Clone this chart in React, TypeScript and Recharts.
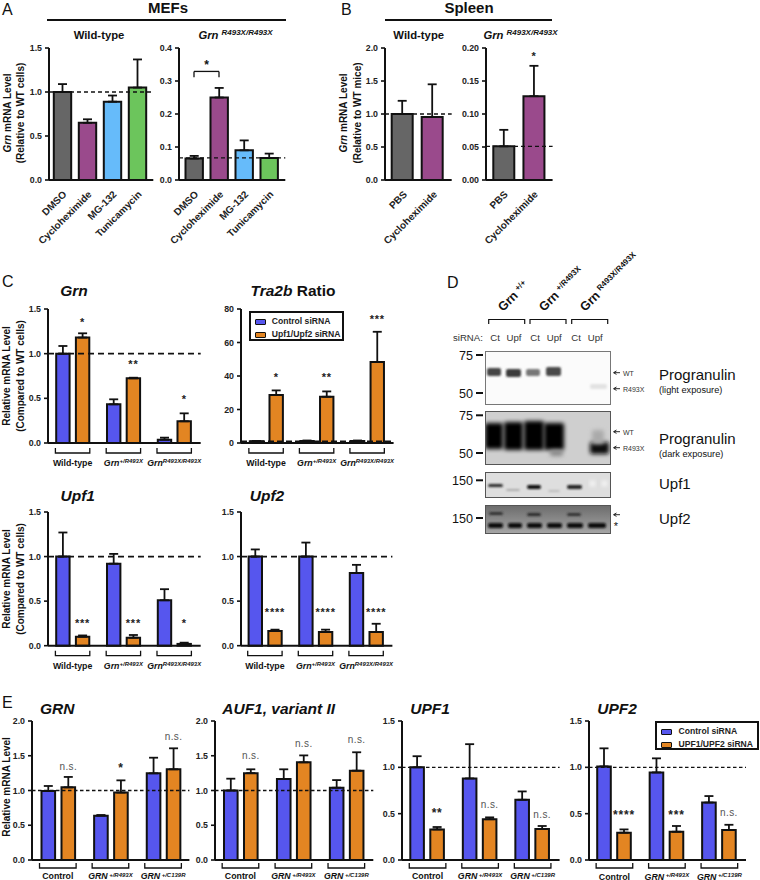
import React from 'react';
import {
  BarChart,
  Bar,
  XAxis,
  YAxis,
  Cell,
  ErrorBar,
  LabelList,
  Legend,
  ReferenceLine
} from 'recharts';

const FONT = '"Liberation Sans", Arial, sans-serif';
const INK = '#111';
const BLUE = '#5656ee';
const ORANGE = '#e38522';

// panel A + B
const treatments = ['DMSO', 'Cycloheximide', 'MG-132', 'Tunicamycin'];
const treatmentColors = ['#666666', '#9a4a8c', '#66bbfa', '#6cc55c'];
const mefWtValues = [1.0, 0.65, 0.89, 1.05];
const mefWtErrs = [0.09, 0.04, 0.07, 0.32];
const mefKoValues = [0.065, 0.25, 0.09, 0.067];
const mefKoErrs = [0.008, 0.029, 0.03, 0.013];

const spleenGroups = ['PBS', 'Cycloheximide'];
const spleenColors = ['#666666', '#9a4a8c'];
const spleenWtValues = [1.0, 0.955];
const spleenWtErrs = [0.2, 0.495];
const spleenKoValues = [0.051, 0.127];
const spleenKoErrs = [0.025, 0.046];
const spleenKoSig = ['', '*'];
const spleenKoSigY = [0, 0.19];

// panel C
const mouseGenotypes = ['Wild-type', 'Grn +/R493X', 'Grn R493X/R493X'];
const grnCtrl = [1.0, 0.433, 0.037];
const grnCtrlErr = [0.086, 0.056, 0.023];
const grnUpf = [1.18, 0.724, 0.243];
const grnUpfErr = [0.048, 0.007, 0.089];
const grnSig = ['*', '**', '*'];
const grnSigY = [1.37, 0.9, 0.5];

const traCtrl = [1.0, 1.2, 1.2];
const traCtrlErr = [0.2, 0.3, 0.3];
const traUpf = [28.6, 27.6, 48.4];
const traUpfErr = [2.8, 3.2, 18];
const traSig = ['*', '**', '***'];
const traSigY = [39.8, 39.8, 74.8];

const upf1Ctrl = [1.0, 0.92, 0.51];
const upf1CtrlErr = [0.27, 0.11, 0.124];
const upf1Upf = [0.1, 0.09, 0.02];
const upf1UpfErr = [0.015, 0.03, 0.014];
const upf1Sig = ['***', '***', '*'];
const upf1SigY = [0.27, 0.27, 0.27];

const upf2Ctrl = [1.0, 1.0, 0.815];
const upf2CtrlErr = [0.08, 0.157, 0.092];
const upf2Upf = [0.165, 0.155, 0.155];
const upf2UpfErr = [0.015, 0.025, 0.091];
const upf2Sig = ['****', '****', '****'];
const upf2SigY = [0.388, 0.388, 0.388];

// panel E
const humanGenotypes = ['Control', 'GRN +/R493X', 'GRN +/C139R'];
const eGrnCtrl = [0.993, 0.638, 1.247];
const eGrnCtrlErr = [0.072, 0.009, 0.225];
const eGrnUpf = [1.045, 0.97, 1.305];
const eGrnUpfErr = [0.15, 0.176, 0.302];
const eGrnSig = ['n.s.', '*', 'n.s.'];
const eGrnSigY = [1.35, 1.34, 1.775];

const auf1Ctrl = [1.0, 1.165, 1.04];
const auf1CtrlErr = [0.17, 0.14, 0.11];
const auf1Upf = [1.25, 1.405, 1.285];
const auf1UpfErr = [0.055, 0.1, 0.265];
const auf1Sig = ['n.s.', 'n.s.', 'n.s.'];
const auf1SigY = [1.5, 1.675, 1.73];

const eUpf1Ctrl = [1.0, 0.88, 0.65];
const eUpf1CtrlErr = [0.12, 0.37, 0.09];
const eUpf1Upf = [0.33, 0.44, 0.335];
const eUpf1UpfErr = [0.026, 0.02, 0.032];
const eUpf1Sig = ['**', 'n.s.', 'n.s.'];
const eUpf1SigY = [0.514, 0.594, 0.49];

const eUpf2Ctrl = [1.01, 0.945, 0.62];
const eUpf2CtrlErr = [0.195, 0.152, 0.07];
const eUpf2Upf = [0.295, 0.305, 0.325];
const eUpf2UpfErr = [0.035, 0.062, 0.055];
const eUpf2Sig = ['****', '***', 'n.s.'];
const eUpf2SigY = [0.5, 0.5, 0.51];

function pairRows(names: string[], a: number[], aErr: number[], b: number[], bErr: number[], sig: string[], sigY: number[]) {
  return names.map((name, i) => ({
    name,
    a: a[i],
    aErr: [0, aErr[i]],
    b: b[i],
    bErr: [0, bErr[i]],
    sig: sig[i],
    sigY: sigY[i]
  }));
}

function singleRows(names: string[], a: number[], aErr: number[], sig?: string[], sigY?: number[]) {
  return names.map((name, i) => ({
    name,
    a: a[i],
    aErr: [0, aErr[i]],
    sig: sig ? sig[i] : '',
    sigY: sigY ? sigY[i] : 0
  }));
}

const rotatedTick = ({ x, y, payload }: any) => (
  <text
    x={x + 5}
    y={y + 15}
    transform={`rotate(-45 ${x + 5} ${y + 15})`}
    textAnchor="end"
    fontFamily={FONT}
    fontSize={10}
    fontWeight={700}
    fill="#222"
  >
    {payload.value}
  </text>
);

// bracket under a pair of bars, with genotype name below
const bracketTick = (half: number, top: number, label: number, supGap: number) => ({ x, y, payload }: any) => {
  const [base, sup] = String(payload.value).split(' ');
  return (
    <g>
      <path
        d={`M${x - half} ${y + top}V${y + top + 5}H${x + half}V${y + top}`}
        fill="none"
        stroke={INK}
        strokeWidth={1.3}
      />
      <text x={x} y={y + label} textAnchor="middle" fontFamily={FONT} fontWeight={700} fontSize={8.8} fill={INK}>
        <tspan fontStyle={sup ? 'italic' : 'normal'}>{base}</tspan>
        {sup ? (
          <tspan fontStyle="italic" fontSize={6} dx={supGap} dy={-2.5}>
            {sup}
          </tspan>
        ) : null}
      </text>
    </g>
  );
};

const mouseTick = bracketTick(17.2, 5, 23, 0);
const humanTick = bracketTick(18.3, 3, 19.5, 1.5);

const LegendBox = ({ payload, w, h, textX }: any) => (
  <div
    style={{
      width: w,
      height: h,
      boxSizing: 'border-box',
      border: `2px solid ${INK}`,
      background: '#fff',
      fontFamily: FONT,
      fontSize: 8.6,
      fontWeight: 700,
      color: '#222',
      position: 'relative'
    }}
  >
    {(payload || []).map((item: any, i: number) => (
      <div key={item.value} style={{ position: 'absolute', left: 4, top: 4 + i * 13.4, height: 9, whiteSpace: 'nowrap' }}>
        <span
          style={{
            position: 'absolute',
            left: 0,
            top: 2,
            width: 9,
            height: 4,
            background: item.color,
            border: `1.3px solid ${INK}`,
            borderRadius: 1
          }}
        />
        <span style={{ position: 'absolute', left: textX, top: -1, lineHeight: '11px' }}>{item.value}</span>
      </div>
    ))}
  </div>
);

function Panel(props: any) {
  const {
    left, right, top, bottom, padL, padR, max, ticks, digits = 1, rows, names, colors,
    barSize = 13.4, barGap = 6.3, refY, dash = '6 4', refWidth = 1.8, tick, xHeight = 48,
    sigFont = 11, legend, link
  } = props;
  const yWidth = 32;
  const marginTop = 8;
  const marginRight = legend ? 14 : 6;
  const plotH = bottom - top;
  const pxPerUnit = plotH / max;
  const w = right - left + yWidth + marginRight;
  const h = plotH + marginTop + xHeight;

  const sigLabel = (p: any) => {
    const row = rows[p.index];
    if (!row.sig) return null;
    const isText = row.sig === 'n.s.';
    const cy = p.y + p.height - row.sigY * pxPerUnit;
    return (
      <text
        x={p.x + p.width / 2}
        y={cy + (isText ? 3.5 : 5)}
        textAnchor="middle"
        fontFamily={FONT}
        fontSize={isText ? 10 : sigFont}
        fontWeight={isText ? 400 : 700}
        letterSpacing={isText ? 0.4 : 0.8}
        fill={isText ? '#555' : '#222'}
      >
        {row.sig}
      </text>
    );
  };

  return (
    <div style={{ position: 'absolute', left: left - yWidth, top: top - marginTop }}>
      <BarChart
        width={w}
        height={h}
        data={rows}
        barSize={barSize}
        barGap={barGap}
        margin={{ top: marginTop, right: marginRight, bottom: 0, left: 0 }}
      >
        <XAxis
          dataKey="name"
          interval={0}
          height={xHeight}
          padding={{ left: padL, right: padR }}
          axisLine={{ stroke: INK, strokeWidth: 2 }}
          tickLine={false}
          tickSize={0}
          tickMargin={0}
          tick={tick}
        />
        <YAxis
          width={yWidth}
          domain={[0, max]}
          ticks={ticks}
          tickFormatter={(v: number) => v.toFixed(digits)}
          axisLine={{ stroke: INK, strokeWidth: 2 }}
          tickLine={{ stroke: INK, strokeWidth: 1.6 }}
          tickSize={4}
          tickMargin={3}
          tick={{ fontFamily: FONT, fontSize: 8.8, fontWeight: 700, fill: '#222' }}
        />
        <ReferenceLine y={refY} stroke={INK} strokeWidth={refWidth} strokeDasharray={dash} />
        {link
          ? link.segments.map((s: any, i: number) => (
              <ReferenceLine
                key={i}
                segment={s}
                stroke={INK}
                strokeWidth={1.3}
                label={
                  i === 1
                    ? { value: '*', position: 'top', fontFamily: FONT, fontSize: 12, fontWeight: 700, fill: INK, dy: 3 }
                    : undefined
                }
              />
            ))
          : null}
        {names ? (
          names.map((name: string, i: number) => (
            <Bar
              key={name}
              dataKey={i === 0 ? 'a' : 'b'}
              name={name}
              fill={i === 0 ? BLUE : ORANGE}
              stroke={INK}
              strokeWidth={2}
              isAnimationActive={false}
            >
              <ErrorBar
                dataKey={i === 0 ? 'aErr' : 'bErr'}
                direction="y"
                width={4.5}
                stroke={INK}
                strokeWidth={1.8}
                isAnimationActive={false}
              />
              {i === 1 ? <LabelList dataKey="sig" content={sigLabel} /> : null}
            </Bar>
          ))
        ) : (
          <Bar dataKey="a" stroke={INK} strokeWidth={2} isAnimationActive={false}>
            {rows.map((r: any, i: number) => (
              <Cell key={r.name} fill={colors[i]} />
            ))}
            <ErrorBar dataKey="aErr" direction="y" width={4.5} stroke={INK} strokeWidth={1.8} isAnimationActive={false} />
            <LabelList dataKey="sig" content={sigLabel} />
          </Bar>
        )}
        {legend ? (
          <Legend
            layout="vertical"
            align="center"
            verticalAlign="middle"
            wrapperStyle={{ left: legend.x - (left - yWidth), top: legend.y - (top - marginTop), width: legend.w, right: 'auto', bottom: 'auto' }}
            content={(p: any) => <LegendBox payload={p.payload} w={legend.w} h={legend.h} textX={legend.textX} />}
          />
        ) : null}
      </BarChart>
    </div>
  );
}

const T = ({ children, size = 10, bold = true, italic = false, anchor = 'middle', ...rest }: any) => (
  <text
    fontFamily={FONT}
    fontSize={size}
    fontWeight={bold ? 700 : 400}
    fontStyle={italic ? 'italic' : 'normal'}
    textAnchor={anchor}
    fill={INK}
    {...rest}
  >
    {children}
  </text>
);

const Sup = ({ children, size = 8, dy = -3.5, dx = 3 }: any) => (
  <tspan fontSize={size} dy={dy} dx={dx} fontStyle="italic">
    {children}
  </tspan>
);

const YTitle = ({ x, y, size = 10, children }: any) => (
  <T x={x} y={y} size={size} transform={`rotate(-90 ${x} ${y})`}>
    {children}
  </T>
);

// western blot scans, drawn as soft bands
function Blot() {
  const lowerBands = [[488, 15], [508, 14], [527, 15], [547, 15], [567, 16], [588, 18]];
  const band = (x: number, y: number, w: number, h: number, fill: string, filter = 'url(#b1)') => (
    <rect key={`${x}-${y}`} x={x} y={y} width={w} height={h} rx={2} fill={fill} filter={filter} />
  );
  return (
    <g>
      <defs>
        <filter id="b1" x="-40%" y="-150%" width="180%" height="400%">
          <feGaussianBlur stdDeviation="1.2" />
        </filter>
        <filter id="b2" x="-40%" y="-100%" width="180%" height="300%">
          <feGaussianBlur stdDeviation="2" />
        </filter>
        <linearGradient id="upf2bg" x1="0" y1="0" x2="0" y2="1">
          <stop offset="0" stopColor="#6c6c6c" />
          <stop offset="1" stopColor="#a6a6a6" />
        </linearGradient>
        <clipPath id="blots">
          <rect x="486" y="352" width="124" height="52" />
          <rect x="486" y="412" width="124" height="52" />
          <rect x="486" y="473" width="124" height="24" />
          <rect x="486" y="506" width="124" height="27" />
        </clipPath>
      </defs>
      <rect x="485.5" y="351.5" width="125" height="53" fill="#fbfbfb" stroke="#777" />
      <rect x="485.5" y="411.5" width="125" height="53" fill="#cfcfcf" stroke="#555" />
      <rect x="485.5" y="472.5" width="125" height="25" fill="#dedede" stroke="#555" />
      <rect x="485.5" y="505.5" width="125" height="28" fill="url(#upf2bg)" stroke="#555" />
      <g clipPath="url(#blots)">
        {band(487, 368, 14, 8, '#444')}
        {band(506, 369, 15, 8, '#3a3a3a')}
        {band(526, 369, 14, 7, '#777')}
        {band(546, 367, 15, 9, '#4a4a4a')}
        {band(590, 384, 17, 5, '#e2e2e2')}

        {band(485, 423, 18, 26, '#050505', 'url(#b2)')}
        {band(504, 422, 19, 28, '#050505', 'url(#b2)')}
        {band(524, 421, 20, 29, '#050505', 'url(#b2)')}
        {band(544, 423, 20, 27, '#050505', 'url(#b2)')}
        {band(590, 442, 19, 12, '#0c0c0c', 'url(#b2)')}
        {band(592, 430, 12, 14, '#aaa', 'url(#b2)')}
        {band(550, 450, 13, 6, '#888', 'url(#b2)')}

        {band(488, 484, 15, 3, '#2a2a2a')}
        {band(506, 489, 14, 2, '#aaa')}
        {band(527, 485, 14, 4, '#111')}
        {band(548, 490, 12, 2, '#bbb')}
        {band(567, 485, 15, 4, '#222')}
        {band(590, 481, 5, 5, '#fff', 'url(#b2)')}
        {band(602, 481, 5, 5, '#fff', 'url(#b2)')}

        {band(489, 512, 14, 3, '#333')}
        {band(527, 513, 14, 3, '#2a2a2a')}
        {band(567, 513, 14, 3, '#333')}
        {lowerBands.map(([x, w]) => band(x, 523, w, 5, '#0a0a0a'))}
      </g>
    </g>
  );
}

const kd = (y: number, h = 7) => <rect x={476} y={y - 1} width={h} height={2} fill={INK} />;
const arrow = (y: number) => (
  <path d={`M620 ${y}H614M616.5 ${y - 1.7}L613.5 ${y}L616.5 ${y + 1.7}`} fill="none" stroke={INK} strokeWidth={0.9} />
);

function Overlay() {
  return (
    <svg width={760} height={880} style={{ position: 'absolute', left: 0, top: 0 }}>
      {/* panel letters */}
      <T x={2} y={15} size={16} bold={false} anchor="start">A</T>
      <T x={341} y={15} size={16} bold={false} anchor="start">B</T>
      <T x={2} y={287} size={16} bold={false} anchor="start">C</T>
      <T x={447} y={288} size={16} bold={false} anchor="start">D</T>
      <T x={2} y={708} size={16} bold={false} anchor="start">E</T>

      {/* A + B headers */}
      <T x={168} y={13} size={15}>MEFs</T>
      <rect x={47} y={19} width={239} height={2} fill={INK} />
      <T x={99} y={39} size={11.3}>Wild-type</T>
      <T x={235.5} y={38.5} size={11.3} italic>Grn<Sup>R493X/R493X</Sup></T>
      <T x={469} y={13} size={15}>Spleen</T>
      <rect x={385} y={19} width={167} height={2} fill={INK} />
      <T x={418.7} y={39} size={11.3}>Wild-type</T>
      <T x={520.5} y={38.5} size={11.3} italic>Grn<Sup>R493X/R493X</Sup></T>

      <YTitle x={10.5} y={113}><tspan fontStyle="italic">Grn</tspan> mRNA Level</YTitle>
      <YTitle x={24} y={113}>(Relative to WT cells)</YTitle>
      <YTitle x={347} y={113}><tspan fontStyle="italic">Grn</tspan> mRNA Level</YTitle>
      <YTitle x={360.5} y={113}>(Relative to WT mice)</YTitle>

      {/* C titles */}
      <T x={74} y={296} size={15.5} italic>Grn</T>
      <T x={293} y={296} size={15.5}><tspan fontStyle="italic">Tra2b</tspan> Ratio</T>
      <T x={77.7} y={501} size={15.5} italic>Upf1</T>
      <T x={267} y={501} size={15.5} italic>Upf2</T>
      <YTitle x={9.5} y={376}>Relative mRNA Level</YTitle>
      <YTitle x={23.5} y={376}>(Compared to WT cells)</YTitle>
      <YTitle x={9.5} y={579}>Relative mRNA Level</YTitle>
      <YTitle x={23.5} y={579}>(Compared to WT cells)</YTitle>

      {/* E titles */}
      <T x={57.3} y={714} size={15.5} italic>GRN</T>
      <T x={278.7} y={714} size={15.5} italic>AUF1, variant II</T>
      <T x={430} y={714} size={15.5} italic>UPF1</T>
      <T x={617} y={714} size={15.5} italic>UPF2</T>
      <YTitle x={9.5} y={787}>Relative mRNA Level</YTitle>

      {/* D blots */}
      <Blot />
      {[503, 544, 585].map((x, i) => (
        <T key={x} x={x} y={312} size={12.5} anchor="start" transform={`rotate(-45 ${x} 312)`}>
          Grn
          <tspan fontSize={8} dx={3} dy={-4}>{['+/+', '+/R493X', 'R493X/R493X'][i]}</tspan>
        </T>
      ))}
      {[488.7, 530, 571.7].map((x) => (
        <path key={x} d={`M${x} 324V319.5H${x + 36}V324`} fill="none" stroke={INK} strokeWidth={1.2} />
      ))}
      <T x={453} y={340.5} size={9.6} bold={false} anchor="start" fill="#333">siRNA:</T>
      {[495, 535, 576].map((x) => (
        <T key={x} x={x} y={340.5} size={9.6} bold={false} fill="#333">Ct</T>
      ))}
      {[514, 554.3, 595.3].map((x) => (
        <T key={x} x={x} y={340.5} size={9.6} bold={false} fill="#333">Upf</T>
      ))}
      <T x={473} y={359.5} size={12.6} bold={false} anchor="end">75</T>
      <T x={473} y={397.5} size={12.6} bold={false} anchor="end">50</T>
      <T x={473} y={419.5} size={12.6} bold={false} anchor="end">75</T>
      <T x={473} y={457.5} size={12.6} bold={false} anchor="end">50</T>
      <T x={473} y={485} size={12.6} bold={false} anchor="end">150</T>
      <T x={473} y={522.5} size={12.6} bold={false} anchor="end">150</T>
      {kd(355)}{kd(393)}{kd(415.3)}{kd(453)}{kd(480.3)}{kd(518)}
      {arrow(372.7)}{arrow(388.7)}{arrow(431.7)}{arrow(447.7)}{arrow(514.7)}
      <T x={623} y={375.5} size={7} bold={false} anchor="start" fill="#333">WT</T>
      <T x={623} y={391.5} size={7} bold={false} anchor="start" fill="#333">R493X</T>
      <T x={623} y={434.5} size={7} bold={false} anchor="start" fill="#333">WT</T>
      <T x={623} y={450.5} size={7} bold={false} anchor="start" fill="#333">R493X</T>
      <T x={616} y={530} size={11} bold={false}>*</T>
      <T x={659} y={380} size={15} bold={false} anchor="start">Progranulin</T>
      <T x={659} y={392.5} size={9.2} bold={false} anchor="start">(light exposure)</T>
      <T x={659} y={444} size={15} bold={false} anchor="start">Progranulin</T>
      <T x={659} y={456.5} size={9.2} bold={false} anchor="start">(dark exposure)</T>
      <T x={659} y={489} size={15} bold={false} anchor="start">Upf1</T>
      <T x={659} y={524} size={15} bold={false} anchor="start">Upf2</T>
    </svg>
  );
}

const mefLink = {
  segments: [
    [{ x: 'DMSO', y: 0.329 }, { x: 'DMSO', y: 0.311 }],
    [{ x: 'DMSO', y: 0.329 }, { x: 'Cycloheximide', y: 0.329 }],
    [{ x: 'Cycloheximide', y: 0.329 }, { x: 'Cycloheximide', y: 0.311 }]
  ]
};

const ctrlNames = ['Control siRNA', 'Upf1/Upf2 siRNA'];
const humanNames = ['Control siRNA', 'UPF1/UPF2 siRNA'];
const t15 = [0, 0.5, 1, 1.5];

const cRows = { top: 309, bottom: 443 };
const c2Rows = { top: 512.3, bottom: 646 };
const eRows = { top: 720.7, bottom: 859.7 };
const pairShared = { tick: mouseTick, xHeight: 32 };
const humanShared = { tick: humanTick, barSize: 13.6, barGap: 6.4, dash: '3.5 2.5', refWidth: 1.4, xHeight: 24, sigFont: 12 };

export default function App() {
  return (
    <div style={{ position: 'absolute', left: 0, top: 0, width: 760, height: 880, background: '#fff', overflow: 'hidden' }}>
      <Overlay />

      <Panel left={48.7} right={153} top={48.3} bottom={180.3} padL={0.8} padR={3.5} max={1.5} ticks={t15}
        rows={singleRows(treatments, mefWtValues, mefWtErrs)} colors={treatmentColors} barSize={17.4}
        refY={1} dash="4 3" refWidth={1.3} tick={rotatedTick} xHeight={70} />
      <Panel left={178.7} right={285} top={48.3} bottom={180.3} padL={2.5} padR={3.8} max={0.4} ticks={[0, 0.1, 0.2, 0.3, 0.4]}
        rows={singleRows(treatments, mefKoValues, mefKoErrs)} colors={treatmentColors} barSize={17.4}
        refY={0.067} dash="4 3" refWidth={1.3} tick={rotatedTick} xHeight={70} link={mefLink} />
      <Panel left={385.3} right={452} top={48.3} bottom={180.3} padL={2.7} padR={4} max={2} ticks={[0, 0.5, 1, 1.5, 2]}
        rows={singleRows(spleenGroups, spleenWtValues, spleenWtErrs)} colors={spleenColors} barSize={21}
        refY={1} dash="4 3" refWidth={1.3} tick={rotatedTick} xHeight={70} />
      <Panel left={485.7} right={552.3} top={48.3} bottom={180.3} padL={2.3} padR={4} max={0.2} ticks={[0, 0.05, 0.1, 0.15, 0.2]} digits={2}
        rows={singleRows(spleenGroups, spleenKoValues, spleenKoErrs, spleenKoSig, spleenKoSigY)} colors={spleenColors} barSize={21}
        refY={0.051} dash="4 3" refWidth={1.3} tick={rotatedTick} xHeight={70} />

      <Panel left={48.3} right={201} {...cRows} {...pairShared} padL={-0.8} padR={1.1} max={1.5} ticks={t15} names={ctrlNames} refY={1}
        rows={pairRows(mouseGenotypes, grnCtrl, grnCtrlErr, grnUpf, grnUpfErr, grnSig, grnSigY)} />
      <Panel left={240.7} right={393.3} {...cRows} {...pairShared} padL={-0.2} padR={1.2} max={80} ticks={[0, 20, 40, 60, 80]} digits={0} names={ctrlNames} refY={1}
        dash="6 3" legend={{ x: 248.7, y: 310.7, w: 95.5, h: 30, textX: 17 }}
        rows={pairRows(mouseGenotypes, traCtrl, traCtrlErr, traUpf, traUpfErr, traSig, traSigY)} />
      <Panel left={48.3} right={201} {...c2Rows} {...pairShared} padL={-0.8} padR={1.1} max={1.5} ticks={t15} names={ctrlNames} refY={1}
        rows={pairRows(mouseGenotypes, upf1Ctrl, upf1CtrlErr, upf1Upf, upf1UpfErr, upf1Sig, upf1SigY)} />
      <Panel left={241.3} right={392.7} {...c2Rows} {...pairShared} padL={-1.4} padR={1} max={1.5} ticks={t15} names={ctrlNames} refY={1}
        rows={pairRows(mouseGenotypes, upf2Ctrl, upf2CtrlErr, upf2Upf, upf2UpfErr, upf2Sig, upf2SigY)} />

      <Panel left={32} right={189.4} {...eRows} {...humanShared} padL={-0.5} padR={0} max={2} ticks={[0, 0.5, 1, 1.5, 2]} names={humanNames} refY={1}
        rows={pairRows(humanGenotypes, eGrnCtrl, eGrnCtrlErr, eGrnUpf, eGrnUpfErr, eGrnSig, eGrnSigY)} />
      <Panel left={215} right={373.3} {...eRows} {...humanShared} padL={-1} padR={0.5} max={2} ticks={[0, 0.5, 1, 1.5, 2]} names={humanNames} refY={1}
        rows={pairRows(humanGenotypes, auf1Ctrl, auf1CtrlErr, auf1Upf, auf1UpfErr, auf1Sig, auf1SigY)} />
      <Panel left={401.7} right={559.3} {...eRows} {...humanShared} padL={-0.7} padR={0.7} max={1.5} ticks={t15} names={humanNames} refY={1}
        rows={pairRows(humanGenotypes, eUpf1Ctrl, eUpf1CtrlErr, eUpf1Upf, eUpf1UpfErr, eUpf1Sig, eUpf1SigY)} />
      <Panel left={589} right={746} {...eRows} {...humanShared} padL={-0.8} padR={0.4} max={1.5} ticks={t15} names={humanNames} refY={1}
        legend={{ x: 655, y: 720.7, w: 103.5, h: 29.5, textX: 17.5 }}
        rows={pairRows(humanGenotypes, eUpf2Ctrl, eUpf2CtrlErr, eUpf2Upf, eUpf2UpfErr, eUpf2Sig, eUpf2SigY)} />
    </div>
  );
}
